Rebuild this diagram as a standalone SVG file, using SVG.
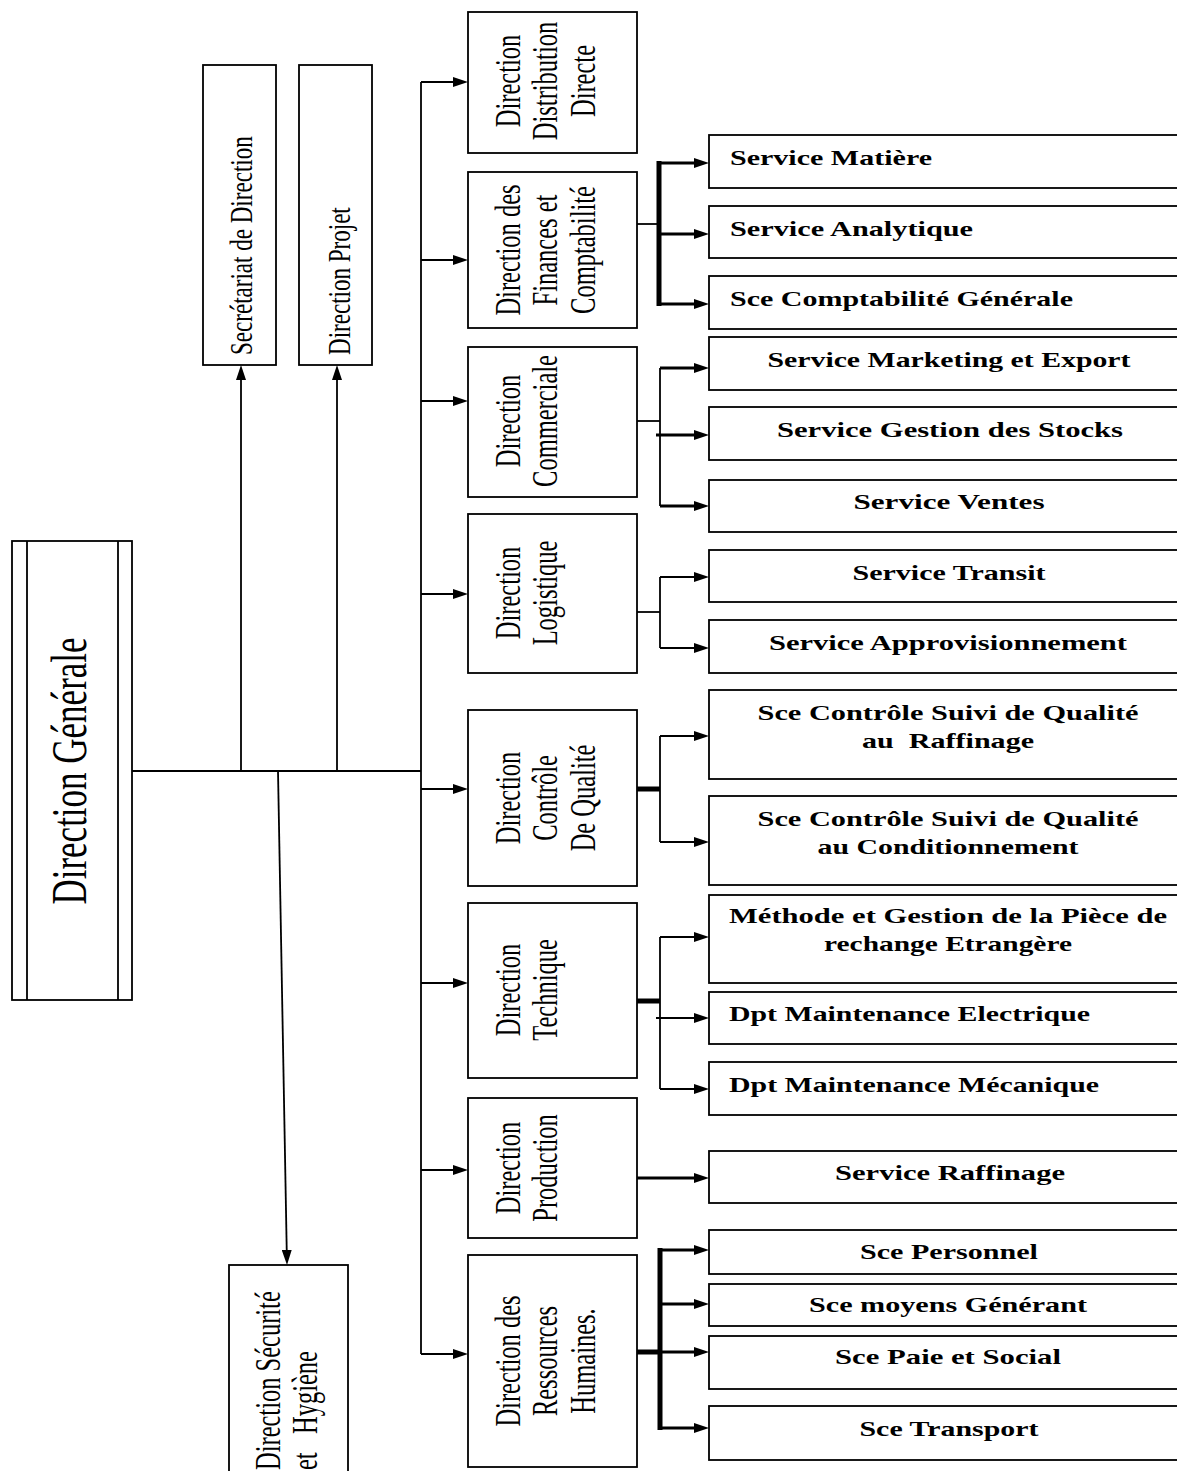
<svg xmlns="http://www.w3.org/2000/svg" width="1177" height="1471" viewBox="0 0 1177 1471">
  <style>
    .box { fill: #fff; stroke: #000; stroke-width: 1.8; }
    .ln { fill: none; stroke: #000; stroke-width: 1.8; }
    .mid { stroke-width: 3.2; }
    .thk { stroke-width: 5; }
    .t { font-family: "Liberation Serif", "Times New Roman", serif; fill: #000; }
    .dir { font-size: 35px; text-anchor: middle; }
    .svc { font-weight: bold; font-size: 22px; }
    .c { text-anchor: middle; }
  </style>
  <defs>
    <marker id="ah" markerWidth="15" markerHeight="10" refX="4" refY="5" orient="auto" markerUnits="userSpaceOnUse">
      <path d="M0,0 L15,5 L0,10 z" fill="#000"/>
    </marker>
  </defs>

  <rect width="1177" height="1471" fill="#fff"/>

  <!-- connectors -->
  <g id="connectors">
    <!-- trunk from the general direction -->
    <path class="ln" d="M132,771 H421"/>
    <path class="ln" d="M421,82 V1354"/>
    <path class="ln" d="M241,771 V376" marker-end="url(#ah)"/>
    <path class="ln" d="M337,771 V376" marker-end="url(#ah)"/>
    <path class="ln" d="M278,771 L286.8,1254" marker-end="url(#ah)"/>
    <!-- bus to the directions -->
    <path class="ln" d="M421,82 H457" marker-end="url(#ah)"/>
    <path class="ln" d="M421,260 H457" marker-end="url(#ah)"/>
    <path class="ln" d="M421,401 H457" marker-end="url(#ah)"/>
    <path class="ln" d="M421,594 H457" marker-end="url(#ah)"/>
    <path class="ln" d="M421,789 H457" marker-end="url(#ah)"/>
    <path class="ln" d="M421,983 H457" marker-end="url(#ah)"/>
    <path class="ln" d="M421,1170 H457" marker-end="url(#ah)"/>
    <path class="ln" d="M421,1354 H457" marker-end="url(#ah)"/>

    <!-- finances -->
    <path class="ln" d="M637,224 H659"/>
    <path class="ln thk" d="M659,161 V306"/>
    <path class="ln mid" d="M659,163 H698" marker-end="url(#ah)"/>
    <path class="ln mid" d="M659,234 H698" marker-end="url(#ah)"/>
    <path class="ln mid" d="M659,304 H698" marker-end="url(#ah)"/>

    <!-- commerciale -->
    <path class="ln" d="M637,421 H660"/>
    <path class="ln" d="M660,368 V506"/>
    <path class="ln mid" d="M660,368 H698" marker-end="url(#ah)"/>
    <path class="ln mid" d="M656,435 H698" marker-end="url(#ah)"/>
    <path class="ln mid" d="M660,506 H698" marker-end="url(#ah)"/>

    <!-- logistique -->
    <path class="ln" d="M637,612 H660"/>
    <path class="ln" d="M660,577 V648"/>
    <path class="ln" d="M660,577 H698" marker-end="url(#ah)"/>
    <path class="ln" d="M660,648 H698" marker-end="url(#ah)"/>

    <!-- controle qualite -->
    <path class="ln thk" d="M637,789 H660"/>
    <path class="ln" d="M660,736 V842"/>
    <path class="ln" d="M660,736 H698" marker-end="url(#ah)"/>
    <path class="ln" d="M660,842 H698" marker-end="url(#ah)"/>

    <!-- technique -->
    <path class="ln thk" d="M637,1001 H660"/>
    <path class="ln" d="M660,937 V1089"/>
    <path class="ln" d="M660,937 H698" marker-end="url(#ah)"/>
    <path class="ln" d="M656,1018 H698" marker-end="url(#ah)"/>
    <path class="ln" d="M660,1089 H698" marker-end="url(#ah)"/>

    <!-- production -->
    <path class="ln mid" d="M637,1178 H698" marker-end="url(#ah)"/>

    <!-- ressources humaines -->
    <path class="ln thk" d="M637,1352 H660"/>
    <path class="ln thk" d="M660,1248 V1430"/>
    <path class="ln mid" d="M660,1250 H698" marker-end="url(#ah)"/>
    <path class="ln mid" d="M660,1304 H698" marker-end="url(#ah)"/>
    <path class="ln mid" d="M660,1352 H698" marker-end="url(#ah)"/>
    <path class="ln mid" d="M660,1428 H698" marker-end="url(#ah)"/>
  </g>

  <!-- left column -->
  <g id="direction-generale">
    <rect class="box" x="12" y="541" width="120" height="459"/>
    <path class="ln" d="M27,541 V1000 M118,541 V1000"/>
    <text class="t" font-size="50" text-anchor="middle" transform="translate(86,771) rotate(-90) scale(0.7,1)">Direction Générale</text>
  </g>

  <g id="secretariat">
    <rect class="box" x="203" y="65" width="73" height="300"/>
    <text class="t" font-size="32" transform="translate(252,355) rotate(-90) scale(0.72,1)">Secrétariat de Direction</text>
  </g>

  <g id="direction-projet">
    <rect class="box" x="299" y="65" width="73" height="300"/>
    <text class="t" font-size="32" transform="translate(350,355) rotate(-90) scale(0.72,1)">Direction Projet</text>
  </g>

  <g id="direction-securite">
    <rect class="box" x="229" y="1265" width="119" height="230"/>
    <text class="t" font-size="35" transform="translate(280,1470) rotate(-90) scale(0.7,1)">Direction Sécurité</text>
    <text class="t" font-size="35" transform="translate(317,1470) rotate(-90) scale(0.7,1)">et&#160;&#160;&#160;Hygiène</text>
  </g>

  <!-- directions -->
  <g id="dir-distribution">
    <rect class="box" x="468" y="12" width="169" height="141"/>
    <text class="t dir" transform="translate(520,81) rotate(-90) scale(0.7,1)">Direction</text>
    <text class="t dir" transform="translate(557,81) rotate(-90) scale(0.7,1)">Distribution</text>
    <text class="t dir" transform="translate(595,81) rotate(-90) scale(0.7,1)">Directe</text>
  </g>

  <g id="dir-finances">
    <rect class="box" x="468" y="172" width="169" height="156"/>
    <text class="t dir" transform="translate(520,250) rotate(-90) scale(0.7,1)">Direction des</text>
    <text class="t dir" transform="translate(557,250) rotate(-90) scale(0.7,1)">Finances et</text>
    <text class="t dir" transform="translate(595,250) rotate(-90) scale(0.7,1)">Comptabilité</text>
  </g>

  <g id="dir-commerciale">
    <rect class="box" x="468" y="347" width="169" height="150"/>
    <text class="t dir" transform="translate(520,421) rotate(-90) scale(0.7,1)">Direction</text>
    <text class="t dir" transform="translate(557,421) rotate(-90) scale(0.7,1)">Commerciale</text>
  </g>

  <g id="dir-logistique">
    <rect class="box" x="468" y="514" width="169" height="159"/>
    <text class="t dir" transform="translate(520,593) rotate(-90) scale(0.7,1)">Direction</text>
    <text class="t dir" transform="translate(557,593) rotate(-90) scale(0.7,1)">Logistique</text>
  </g>

  <g id="dir-controle">
    <rect class="box" x="468" y="710" width="169" height="176"/>
    <text class="t dir" transform="translate(520,798) rotate(-90) scale(0.7,1)">Direction</text>
    <text class="t dir" transform="translate(557,798) rotate(-90) scale(0.7,1)">Contrôle</text>
    <text class="t dir" transform="translate(595,798) rotate(-90) scale(0.7,1)">De Qualité</text>
  </g>

  <g id="dir-technique">
    <rect class="box" x="468" y="903" width="169" height="175"/>
    <text class="t dir" transform="translate(520,990) rotate(-90) scale(0.7,1)">Direction</text>
    <text class="t dir" transform="translate(557,990) rotate(-90) scale(0.7,1)">Technique</text>
  </g>

  <g id="dir-production">
    <rect class="box" x="468" y="1098" width="169" height="140"/>
    <text class="t dir" transform="translate(520,1168) rotate(-90) scale(0.7,1)">Direction</text>
    <text class="t dir" transform="translate(557,1168) rotate(-90) scale(0.7,1)">Production</text>
  </g>

  <g id="dir-rh">
    <rect class="box" x="468" y="1255" width="169" height="212"/>
    <text class="t dir" transform="translate(520,1361) rotate(-90) scale(0.7,1)">Direction des</text>
    <text class="t dir" transform="translate(557,1361) rotate(-90) scale(0.7,1)">Ressources</text>
    <text class="t dir" transform="translate(595,1361) rotate(-90) scale(0.7,1)">Humaines.</text>
  </g>

  <!-- services -->
  <g id="svc-matiere">
    <rect class="box" x="709" y="135" width="480" height="53"/>
    <text class="t svc" x="730" y="165" textLength="202" lengthAdjust="spacingAndGlyphs">Service Matière</text>
  </g>
  <g id="svc-analytique">
    <rect class="box" x="709" y="206" width="480" height="52"/>
    <text class="t svc" x="730" y="236" textLength="243" lengthAdjust="spacingAndGlyphs">Service Analytique</text>
  </g>
  <g id="svc-comptabilite">
    <rect class="box" x="709" y="276" width="480" height="53"/>
    <text class="t svc" x="730" y="306" textLength="343" lengthAdjust="spacingAndGlyphs">Sce Comptabilité Générale</text>
  </g>
  <g id="svc-marketing">
    <rect class="box" x="709" y="337" width="480" height="53"/>
    <text class="t svc c" x="949" y="367" textLength="363" lengthAdjust="spacingAndGlyphs">Service Marketing et Export</text>
  </g>
  <g id="svc-stocks">
    <rect class="box" x="709" y="407" width="480" height="53"/>
    <text class="t svc c" x="950" y="437" textLength="346" lengthAdjust="spacingAndGlyphs">Service Gestion des Stocks</text>
  </g>
  <g id="svc-ventes">
    <rect class="box" x="709" y="480" width="480" height="52"/>
    <text class="t svc c" x="949" y="509" textLength="191" lengthAdjust="spacingAndGlyphs">Service Ventes</text>
  </g>
  <g id="svc-transit">
    <rect class="box" x="709" y="550" width="480" height="52"/>
    <text class="t svc c" x="949" y="580" textLength="193" lengthAdjust="spacingAndGlyphs">Service Transit</text>
  </g>
  <g id="svc-appro">
    <rect class="box" x="709" y="620" width="480" height="53"/>
    <text class="t svc c" x="948" y="650" textLength="358" lengthAdjust="spacingAndGlyphs">Service Approvisionnement</text>
  </g>
  <g id="svc-qualite-raffinage">
    <rect class="box" x="709" y="690" width="480" height="89"/>
    <text class="t svc c" x="948" y="720" textLength="381" lengthAdjust="spacingAndGlyphs">Sce Contrôle Suivi de Qualité</text>
    <text class="t svc c" x="948" y="748" textLength="172" lengthAdjust="spacingAndGlyphs">au&#160; Raffinage</text>
  </g>
  <g id="svc-qualite-conditionnement">
    <rect class="box" x="709" y="796" width="480" height="89"/>
    <text class="t svc c" x="948" y="826" textLength="381" lengthAdjust="spacingAndGlyphs">Sce Contrôle Suivi de Qualité</text>
    <text class="t svc c" x="948" y="854" textLength="261" lengthAdjust="spacingAndGlyphs">au Conditionnement</text>
  </g>
  <g id="svc-piece-rechange">
    <rect class="box" x="709" y="895" width="480" height="88"/>
    <text class="t svc c" x="948" y="923" textLength="438" lengthAdjust="spacingAndGlyphs">Méthode et Gestion de la Pièce de</text>
    <text class="t svc c" x="948" y="951" textLength="248" lengthAdjust="spacingAndGlyphs">rechange Etrangère</text>
  </g>
  <g id="dpt-electrique">
    <rect class="box" x="709" y="992" width="480" height="52"/>
    <text class="t svc" x="729" y="1021" textLength="361" lengthAdjust="spacingAndGlyphs">Dpt Maintenance Electrique</text>
  </g>
  <g id="dpt-mecanique">
    <rect class="box" x="709" y="1062" width="480" height="53"/>
    <text class="t svc" x="729" y="1092" textLength="370" lengthAdjust="spacingAndGlyphs">Dpt Maintenance Mécanique</text>
  </g>
  <g id="svc-raffinage">
    <rect class="box" x="709" y="1151" width="480" height="52"/>
    <text class="t svc c" x="950" y="1180" textLength="230" lengthAdjust="spacingAndGlyphs">Service Raffinage</text>
  </g>
  <g id="svc-personnel">
    <rect class="box" x="709" y="1230" width="480" height="44"/>
    <text class="t svc c" x="949" y="1259" textLength="178" lengthAdjust="spacingAndGlyphs">Sce Personnel</text>
  </g>
  <g id="svc-moyens">
    <rect class="box" x="709" y="1284" width="480" height="42"/>
    <text class="t svc c" x="948" y="1312" textLength="278" lengthAdjust="spacingAndGlyphs">Sce moyens Générant</text>
  </g>
  <g id="svc-paie">
    <rect class="box" x="709" y="1336" width="480" height="53"/>
    <text class="t svc c" x="948" y="1364" textLength="226" lengthAdjust="spacingAndGlyphs">Sce Paie et Social</text>
  </g>
  <g id="svc-transport">
    <rect class="box" x="709" y="1406" width="480" height="54"/>
    <text class="t svc c" x="949" y="1436" textLength="179" lengthAdjust="spacingAndGlyphs">Sce Transport</text>
  </g>
</svg>
